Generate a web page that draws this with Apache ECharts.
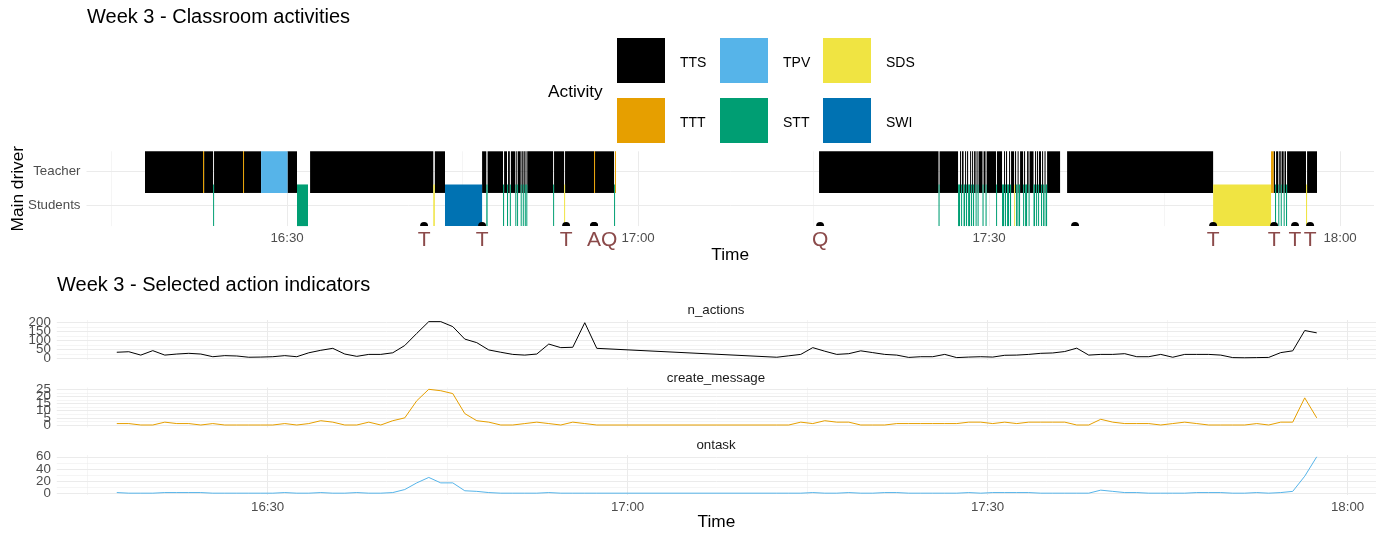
<!DOCTYPE html>
<html><head><meta charset="utf-8">
<script src="https://cdn.jsdelivr.net/npm/echarts@6/dist/echarts.min.js"></script>
<style>html,body{margin:0;padding:0;background:#fff}#chart{width:1382px;height:533px}</style>
</head><body><div id="chart"></div>
<script>
// ================= DATA =================
// time values are minutes after 16:00
const timeTicks = [30, 60, 90, 120];
const timeTickLabels = ['16:30', '17:00', '17:30', '18:00'];
const timeMinorTicks = [15, 45, 75, 105];

const driverRows = [1, 2];
const driverLabels = ['Students', 'Teacher'];

const activityNames = ['TTS', 'TPV', 'TTT', 'SDS', 'STT', 'SWI'];
const activityColors = ['#000000', '#56B4E9', '#E69F00', '#F0E442', '#009E73', '#0072B2'];
const activityDriver = ['Teacher', 'Teacher', 'Teacher', 'Students', 'Students', 'Students'];

// activity log: each activity starts at logStart and lasts until the next entry ('NA' = nothing)
const logStart = [
  17.86, 22.82, 22.91, 23.68, 23.76, 26.24, 26.32, 27.78, 30.04, 30.85, 31.79, 31.97,
  42.50, 42.63, 43.50, 46.67, 47.03, 47.14, 48.46, 48.55, 48.80, 48.89, 49.04, 49.13,
  49.51, 49.59, 49.66, 49.73, 49.97, 50.04, 50.15, 50.21, 50.32, 50.38, 50.45, 50.53,
  52.74, 52.82, 53.68, 53.76, 56.24, 56.32, 57.95, 58.03, 58.10,
  75.47, 85.68, 85.77, 87.35, 87.52, 87.61, 87.69, 87.82, 87.95, 88.03, 88.12, 88.21,
  88.38, 88.46, 88.55, 88.63, 88.72, 88.85, 88.93, 89.02, 89.10, 89.44, 89.53, 89.70,
  89.79, 90.60, 90.68, 91.11, 91.28, 91.35, 91.45, 91.54, 91.71, 91.79, 91.88, 92.14,
  92.22, 92.31, 92.44, 92.52, 92.65, 92.91, 92.99, 93.08, 93.25, 93.38, 93.46, 93.80,
  93.93, 94.02, 94.10, 94.19, 94.27, 94.44, 94.53, 94.62, 94.74, 94.83, 94.96, 96.07,
  96.67, 109.15, 114.10, 114.32, 114.44, 114.53, 114.72, 114.80, 114.93, 115.00, 115.18,
  115.25, 115.38, 115.47, 117.09, 117.18, 118.03
];
const logActivity = [
  'TTS', 'TTT', 'TTS', 'STT', 'TTS', 'TTT', 'TTS', 'TPV', 'TTS', 'STT', 'NA', 'TTS',
  'SDS', 'TTS', 'SWI', 'TTS', 'STT', 'TTS', 'STT', 'TTS', 'STT', 'TTS', 'STT', 'TTS',
  'STT', 'TTS', 'STT', 'TTS', 'STT', 'TTS', 'STT', 'TTS', 'STT', 'TTS', 'STT', 'TTS',
  'STT', 'TTS', 'SDS', 'TTS', 'TTT', 'TTS', 'STT', 'TTT', 'NA',
  'TTS', 'STT', 'TTS', 'STT', 'TTS', 'STT', 'TTS', 'STT', 'TTS', 'STT', 'TTS', 'STT',
  'TTS', 'STT', 'TTS', 'STT', 'TTS', 'STT', 'TTS', 'STT', 'TTS', 'STT', 'TTS', 'STT',
  'TTS', 'STT', 'TTS', 'STT', 'TTS', 'STT', 'TTS', 'STT', 'TTS', 'STT', 'TTS', 'SDS',
  'TTS', 'STT', 'TTS', 'STT', 'TTS', 'STT', 'TTS', 'STT', 'TTS', 'STT', 'TTS', 'STT',
  'TTS', 'STT', 'TTS', 'STT', 'TTS', 'STT', 'TTS', 'STT', 'TTS', 'STT', 'TTS', 'NA',
  'TTS', 'SDS', 'TTT', 'TTS', 'STT', 'TTS', 'STT', 'TTS', 'STT', 'TTS', 'STT',
  'TTS', 'STT', 'TTS', 'SDS', 'TTS', 'NA'
];

// teacher/assistant events shown as dots with letters (A and Q happen at the same moment)
const eventTime = [41.71, 46.67, 53.85, 56.24, 56.24, 75.56, 97.35, 109.15, 114.36, 116.15, 117.44];
const eventLabel = ['T', 'T', 'T', 'A', 'Q', 'Q', '', 'T', 'T', 'T', 'T'];

const indicatorTime = [
  17.43, 18.43, 19.43, 20.43, 21.43, 22.43, 23.43, 24.43, 25.43, 26.43,
  27.43, 28.43, 29.43, 30.43, 31.43, 32.43, 33.43, 34.43, 35.43, 36.43,
  37.43, 38.43, 39.43, 40.43, 41.43, 42.43, 43.43, 44.43, 45.43, 46.43,
  47.43, 48.43, 49.43, 50.43, 51.43, 52.43, 53.43, 54.43, 55.43, 56.43, 57.43,
  72.43, 73.43, 74.43, 75.43, 76.43, 77.43, 78.43, 79.43, 80.43, 81.43,
  82.43, 83.43, 84.43, 85.43, 86.43, 87.43, 88.43, 89.43, 90.43, 91.43,
  92.43, 93.43, 94.43, 95.43, 96.43, 97.43, 98.43, 99.43, 100.43, 101.43,
  102.43, 103.43, 104.43, 105.43, 106.43, 107.43, 108.43, 109.43, 110.43, 111.43,
  112.43, 113.43, 114.43, 115.43, 116.43, 117.43
];
const nActions = [
  34, 37, 18, 43, 18, 24, 28, 24, 9, 15, 13, 6, 7, 9, 15, 9, 31, 45, 56, 24,
  11, 22, 22, 31, 72, 140, 206, 206, 178, 108, 88, 47, 34, 22, 18, 24, 80, 60, 62, 200, 56,
  6, 14, 22, 60, 40, 22, 26, 42, 32, 22, 18, 5, 9, 9, 22, 4, 7, 9, 7, 17,
  18, 22, 28, 30, 38, 57, 18, 22, 22, 26, 9, 9, 22, 6, 22, 22, 22, 18, 4, 3,
  4, 5, 32, 42, 156, 143
];
const createMessage = [
  1, 1, 0, 0, 2, 1, 1, 0, 1, 0, 0, 0, 0, 0, 1, 0, 1, 3, 2, 0,
  0, 2, 0, 3, 5, 17, 25, 24, 22, 8, 3, 2, 0, 0, 1, 2, 1, 0, 2, 1, 0,
  0, 0, 2, 1, 3, 2, 2, 0, 0, 0, 1, 1, 1, 1, 1, 1, 2, 2, 1, 2,
  1, 2, 2, 2, 2, 0, 0, 4, 2, 1, 1, 1, 0, 1, 2, 1, 0, 0, 0, 0,
  1, 0, 2, 2, 19, 5
];
const onTask = [
  1, 0, 0, 0, 1, 1, 1, 1, 0, 0, 0, 0, 0, 0, 1, 0, 0, 1, 0, 0,
  1, 0, 0, 1, 6, 17, 26, 17, 17, 4, 3, 1, 0, 0, 0, 0, 1, 0, 0, 0, 0,
  0, 0, 0, 1, 0, 0, 1, 0, 0, 1, 1, 0, 0, 0, 0, 0, 1, 0, 1, 1,
  1, 1, 0, 0, 0, 0, 0, 5, 3, 1, 1, 0, 0, 0, 0, 1, 1, 1, 0, 0,
  1, 0, 1, 3, 28, 60
];

const nActionsTicks = [0, 50, 100, 150, 200];
const nActionsMinor = [25, 75, 125, 175];
const createTicks = [0, 5, 10, 15, 20, 25];
const createMinor = [2.5, 7.5, 12.5, 17.5, 22.5];
const onTaskTicks = [0, 20, 40, 60];
const onTaskMinor = [10, 30, 50];

// ================= LAYOUT / STYLE =================
const FONT = 'Liberation Sans';
const TILE_HALF = 0.625;
const TOP_Y = [0.4, 2.6];
const TOP_X = [12.86, 122.9];
const BOT_X = [12.43, 122.37];
const GRID_COLOR = '#EBEBEB';
const LABEL_COLOR = '#4D4D4D';
// horizontal label repel (px) for labels that collide with the previous one at the same moment
const REPEL_PX = 15;

const rowOf = name => driverRows[driverLabels.indexOf(activityDriver[activityNames.indexOf(name)])];

const segments = {};
activityNames.forEach(n => segments[n] = []);
for (let i = 0; i < logStart.length - 1; i++) {
  const a = logActivity[i];
  if (a === 'NA') continue;
  segments[a].push([logStart[i], logStart[i + 1], rowOf(a)]);
}

function renderTile(params, api) {
  const row = api.value(2);
  const a = api.coord([api.value(0), row + TILE_HALF]);
  const b = api.coord([api.value(1), row - TILE_HALF]);
  const w = Math.max(b[0] - a[0], 1);
  const cs = params.coordSys;
  const shape = echarts.graphic.clipRectByRect(
    { x: a[0], y: a[1], width: w, height: b[1] - a[1] },
    { x: cs.x, y: cs.y, width: cs.width, height: cs.height });
  if (!shape) return null;
  return { type: 'rect', shape: shape, style: { fill: api.visual('color') } };
}

function renderEvent(params, api) {
  const i = params.dataIndex;
  const p = api.coord([api.value(0), TOP_Y[0]]);
  const repel = (i > 0 && eventTime[i - 1] === eventTime[i]) ? REPEL_PX : 0;
  return {
    type: 'group', children: [
      { type: 'sector', shape: { cx: p[0], cy: p[1], r0: 0, r: 4, startAngle: Math.PI, endAngle: Math.PI * 2, clockwise: true },
        style: { fill: '#000' } },
      { type: 'text', x: p[0] + repel, y: p[1] + 14.5,
        style: { text: eventLabel[i], align: 'center', verticalAlign: 'middle',
                 fill: '#8B4A4A', fontSize: 21, fontFamily: FONT } }
    ]
  };
}

const tickFmt = v => { const i = timeTicks.indexOf(v); return i >= 0 ? timeTickLabels[i] : ''; };

function xMajor(gridIndex, range, showLabel, nameGap) {
  return {
    type: 'value', gridIndex, min: range[0], max: range[1],
    axisLine: { show: false }, axisTick: { show: false, customValues: timeTicks },
    axisLabel: { show: showLabel, customValues: timeTicks, formatter: tickFmt, color: LABEL_COLOR,
                 fontSize: 13.3, fontFamily: FONT, margin: 6, showMinLabel: true, showMaxLabel: true },
    splitLine: { show: true, lineStyle: { color: GRID_COLOR, width: 1 } },
    name: showLabel ? 'Time' : '', nameLocation: 'middle', nameGap: nameGap, nameMoveOverlap: false,
    nameTextStyle: { fontSize: 17.3, color: '#000', fontFamily: FONT }
  };
}
function xMinor(gridIndex, range) {
  return {
    type: 'value', gridIndex, min: range[0], max: range[1], position: 'top',
    axisLine: { show: false }, axisTick: { show: false, customValues: timeMinorTicks },
    axisLabel: { show: false, customValues: timeMinorTicks },
    splitLine: { show: true, lineStyle: { color: GRID_COLOR, width: 0.5 } }
  };
}
function yGridAxis(gridIndex, min, max, ticks, width, position) {
  return {
    type: 'value', gridIndex, min, max, position,
    axisLine: { show: false }, axisTick: { show: false, customValues: ticks },
    axisLabel: { show: false, customValues: ticks },
    splitLine: { show: true, lineStyle: { color: GRID_COLOR, width } }
  };
}
// labels split over a few overlapping left axes so that every tick label is drawn (as in the reference)
function yLabelAxes(gridIndex, min, max, ticks) {
  const groups = [[], [], []];
  ticks.forEach((t, i) => groups[i % 3].push(t));
  return groups.filter(g => g.length).map(g => ({
    type: 'value', gridIndex, min, max, position: 'left',
    axisLine: { show: false }, axisTick: { show: false, customValues: g },
    axisLabel: { customValues: g, color: LABEL_COLOR, fontSize: 13.3, fontFamily: FONT, margin: 6,
                 showMinLabel: true, showMaxLabel: true },
    splitLine: { show: false }
  }));
}

const yAxes = [{
  type: 'value', gridIndex: 0, min: TOP_Y[0], max: TOP_Y[1],
  axisLine: { show: false }, axisTick: { show: false, customValues: driverRows },
  axisLabel: { customValues: driverRows, formatter: v => driverLabels[driverRows.indexOf(v)],
               color: LABEL_COLOR, fontSize: 13.3, fontFamily: FONT, margin: 6,
               showMinLabel: true, showMaxLabel: true },
  splitLine: { show: true, lineStyle: { color: GRID_COLOR, width: 1 } },
  name: 'Main driver', nameLocation: 'middle', nameGap: 60, nameMoveOverlap: false,
  nameTextStyle: { fontSize: 17.3, color: '#000', fontFamily: FONT }
}];
const facetDefs = [
  [1, -9.5, 215.2, nActionsTicks, nActionsMinor],
  [2, -1.75, 26.26, createTicks, createMinor],
  [3, -3, 63, onTaskTicks, onTaskMinor]
];
const facetYIndex = [];
facetDefs.forEach(([g, mn, mx, ticks, minor]) => {
  facetYIndex.push(yAxes.length);
  yAxes.push(yGridAxis(g, mn, mx, ticks, 1, 'left'));
  yAxes.push(yGridAxis(g, mn, mx, minor, 0.5, 'right'));
  yLabelAxes(g, mn, mx, ticks).forEach(a => yAxes.push(a));
});

const legendBase = {
  orient: 'vertical', top: 38, itemWidth: 48, itemHeight: 45, itemGap: 15, padding: 0,
  icon: 'rect', selectedMode: false,
  formatter: name => '{t|' + name + '}',
  textStyle: { fontSize: 14, color: '#000', fontFamily: FONT,
               rich: { t: { fontSize: 14, color: '#000', fontFamily: FONT, padding: [5, 0, 0, 10] } } }
};

const series = activityNames.map((n, i) => ({
  name: n, type: 'custom', xAxisIndex: 0, yAxisIndex: 0,
  renderItem: renderTile, data: segments[n], encode: { x: [0, 1], y: 2 },
  itemStyle: { color: activityColors[i] }, silent: true
}));
series.push({
  name: 'events', type: 'custom', xAxisIndex: 0, yAxisIndex: 0, clip: false,
  renderItem: renderEvent, data: eventTime.map(t => [t, TOP_Y[0]]), encode: { x: 0, y: 1 }, silent: true
});
const lineSeries = [
  [nActions, '#000000', 2, facetYIndex[0]],
  [createMessage, '#E69F00', 4, facetYIndex[1]],
  [onTask, '#56B4E9', 6, facetYIndex[2]]
];
lineSeries.forEach(([vals, col, xi, yi]) => series.push({
  type: 'line', xAxisIndex: xi, yAxisIndex: yi, showSymbol: false, symbol: 'none', silent: true,
  data: indicatorTime.map((t, i) => [t, vals[i]]),
  lineStyle: { color: col, width: 1 }, itemStyle: { color: col }
}));

const gridBase = { containLabel: false, outerBoundsMode: 'none' };

const option = {
  animation: false,
  backgroundColor: '#fff',
  textStyle: { fontFamily: FONT },
  title: [
    { text: 'Week 3 - Classroom activities', left: 87, top: 7, padding: 0,
      textStyle: { fontSize: 20, fontWeight: 'normal', color: '#000', fontFamily: FONT } },
    { text: 'Week 3 - Selected action indicators', left: 57, top: 275, padding: 0,
      textStyle: { fontSize: 20, fontWeight: 'normal', color: '#000', fontFamily: FONT } },
    { text: 'Activity', left: 548, top: 84, padding: 0,
      textStyle: { fontSize: 17.3, fontWeight: 'normal', color: '#000', fontFamily: FONT } }
  ],
  legend: [
    Object.assign({}, legendBase, { left: 617, data: ['TTS', 'TTT'] }),
    Object.assign({}, legendBase, { left: 720, data: ['TPV', 'STT'] }),
    Object.assign({}, legendBase, { left: 823, data: ['SDS', 'SWI'] })
  ],
  graphic: [
    { type: 'text', x: 716, y: 310, style: { text: 'n_actions', align: 'center', verticalAlign: 'middle', fontSize: 13.3, fill: '#1A1A1A', fontFamily: FONT } },
    { type: 'text', x: 716, y: 378, style: { text: 'create_message', align: 'center', verticalAlign: 'middle', fontSize: 13.3, fill: '#1A1A1A', fontFamily: FONT } },
    { type: 'text', x: 716, y: 445, style: { text: 'ontask', align: 'center', verticalAlign: 'middle', fontSize: 13.3, fill: '#1A1A1A', fontFamily: FONT } }
  ],
  grid: [
    Object.assign({ left: 86.5, right: 8, top: 151.3, height: 74.8 }, gridBase),
    Object.assign({ left: 56.8, right: 6, top: 320, height: 40 }, gridBase),
    Object.assign({ left: 56.8, right: 6, top: 387.5, height: 40 }, gridBase),
    Object.assign({ left: 56.8, right: 6, top: 455, height: 40 }, gridBase)
  ],
  xAxis: [
    xMajor(0, TOP_X, true, 21), xMinor(0, TOP_X),
    xMajor(1, BOT_X, false, 0), xMinor(1, BOT_X),
    xMajor(2, BOT_X, false, 0), xMinor(2, BOT_X),
    xMajor(3, BOT_X, true, 19), xMinor(3, BOT_X)
  ],
  yAxis: yAxes,
  series: series
};

const chart = echarts.init(document.getElementById('chart'), null, { renderer: 'canvas' });
chart.setOption(option);
</script>
</body></html>
